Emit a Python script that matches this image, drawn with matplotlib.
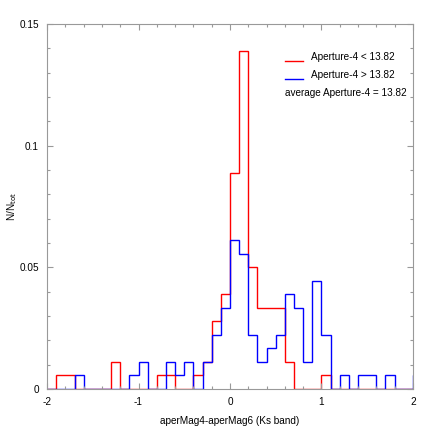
import numpy as np
import matplotlib
matplotlib.use("Agg")
import matplotlib.pyplot as plt
from matplotlib.ticker import MultipleLocator

plt.rcParams["font.family"] = ["Liberation Sans", "DejaVu Sans"]

# bin edges: -2.0 .. 2.1 in steps of 0.1 (41 bins)
bin_edges = np.round(np.arange(-2.0, 2.1001, 0.1), 2)

N_TOT = 180

# counts per bin, Aperture-4 < 13.82
red_counts = [
    0, 1, 1, 0, 0, 0, 0, 2, 0, 0,      # -2.0 .. -1.1
    0, 0, 1, 1, 0, 0, 1, 2, 5, 7,      # -1.0 .. -0.1
    16, 25, 9, 6, 6, 6, 2, 0, 0, 0,    # 0.0 .. 0.9
    1, 0, 0, 0, 0, 0, 0, 0, 0, 0,      # 1.0 .. 1.9
    0,                                 # 2.0
]

# counts per bin, Aperture-4 > 13.82
blue_counts = [
    0, 0, 0, 1, 0, 0, 0, 0, 0, 1,
    2, 0, 0, 2, 1, 2, 0, 2, 4, 6,
    11, 10, 4, 2, 3, 4, 7, 6, 2, 8,
    4, 0, 1, 0, 1, 1, 0, 1, 0, 0,
    1,
]

legend_labels = ["Aperture-4 < 13.82", "Aperture-4 > 13.82"]
avg_label = "average Aperture-4 = 13.82"

FS = 7.2

red_frac = np.array(red_counts) / N_TOT
blue_frac = np.array(blue_counts) / N_TOT

fig = plt.figure(figsize=(4.36, 4.36), dpi=100)
ax = fig.add_axes([0.108, 0.108, 0.839, 0.837])

ax.stairs(red_frac, bin_edges, color="#ff0000", lw=1.0)
ax.stairs(blue_frac, bin_edges, color="#0000ff", lw=1.0)

ax.set_xlim(-2, 2)
ax.set_ylim(0, 0.15)
ax.xaxis.set_major_locator(MultipleLocator(1))
ax.xaxis.set_minor_locator(MultipleLocator(0.2))
ax.yaxis.set_major_locator(MultipleLocator(0.05))
ax.yaxis.set_minor_locator(MultipleLocator(0.01))
ax.xaxis.set_major_formatter(plt.FuncFormatter(lambda v, p: f"{v:g}"))
ax.yaxis.set_major_formatter(plt.FuncFormatter(lambda v, p: f"{v:g}"))

for s in ax.spines.values():
    s.set_color("#999999")
    s.set_linewidth(0.8)
ax.tick_params(which="both", direction="in", top=True, right=True,
               color="#999999", labelsize=FS)
ax.tick_params(which="major", length=4, width=0.8)
ax.tick_params(which="minor", length=2.2, width=0.8)
ax.tick_params(axis="x", pad=6)
ax.tick_params(axis="y", pad=5.8)

ax.set_xlabel("aperMag4-aperMag6 (Ks band)", fontsize=FS, labelpad=6)
ax.set_ylabel(r"N/N$_{\rm tot}$", fontsize=FS)
ax.yaxis.set_label_coords(-0.077, 0.5)

# legend drawn by hand
for yl, yt, col, lab in [(0.899, 0.910, "#ff0000", legend_labels[0]),
                         (0.849, 0.860, "#0000ff", legend_labels[1])]:
    ax.plot([0.650, 0.699], [yl, yl], color=col, lw=1.0, transform=ax.transAxes)
    ax.text(0.721, yt, lab, fontsize=FS, va="center", transform=ax.transAxes)
ax.text(0.650, 0.810, avg_label, fontsize=FS, va="center", transform=ax.transAxes)

fig.savefig("out.png", dpi=100)
